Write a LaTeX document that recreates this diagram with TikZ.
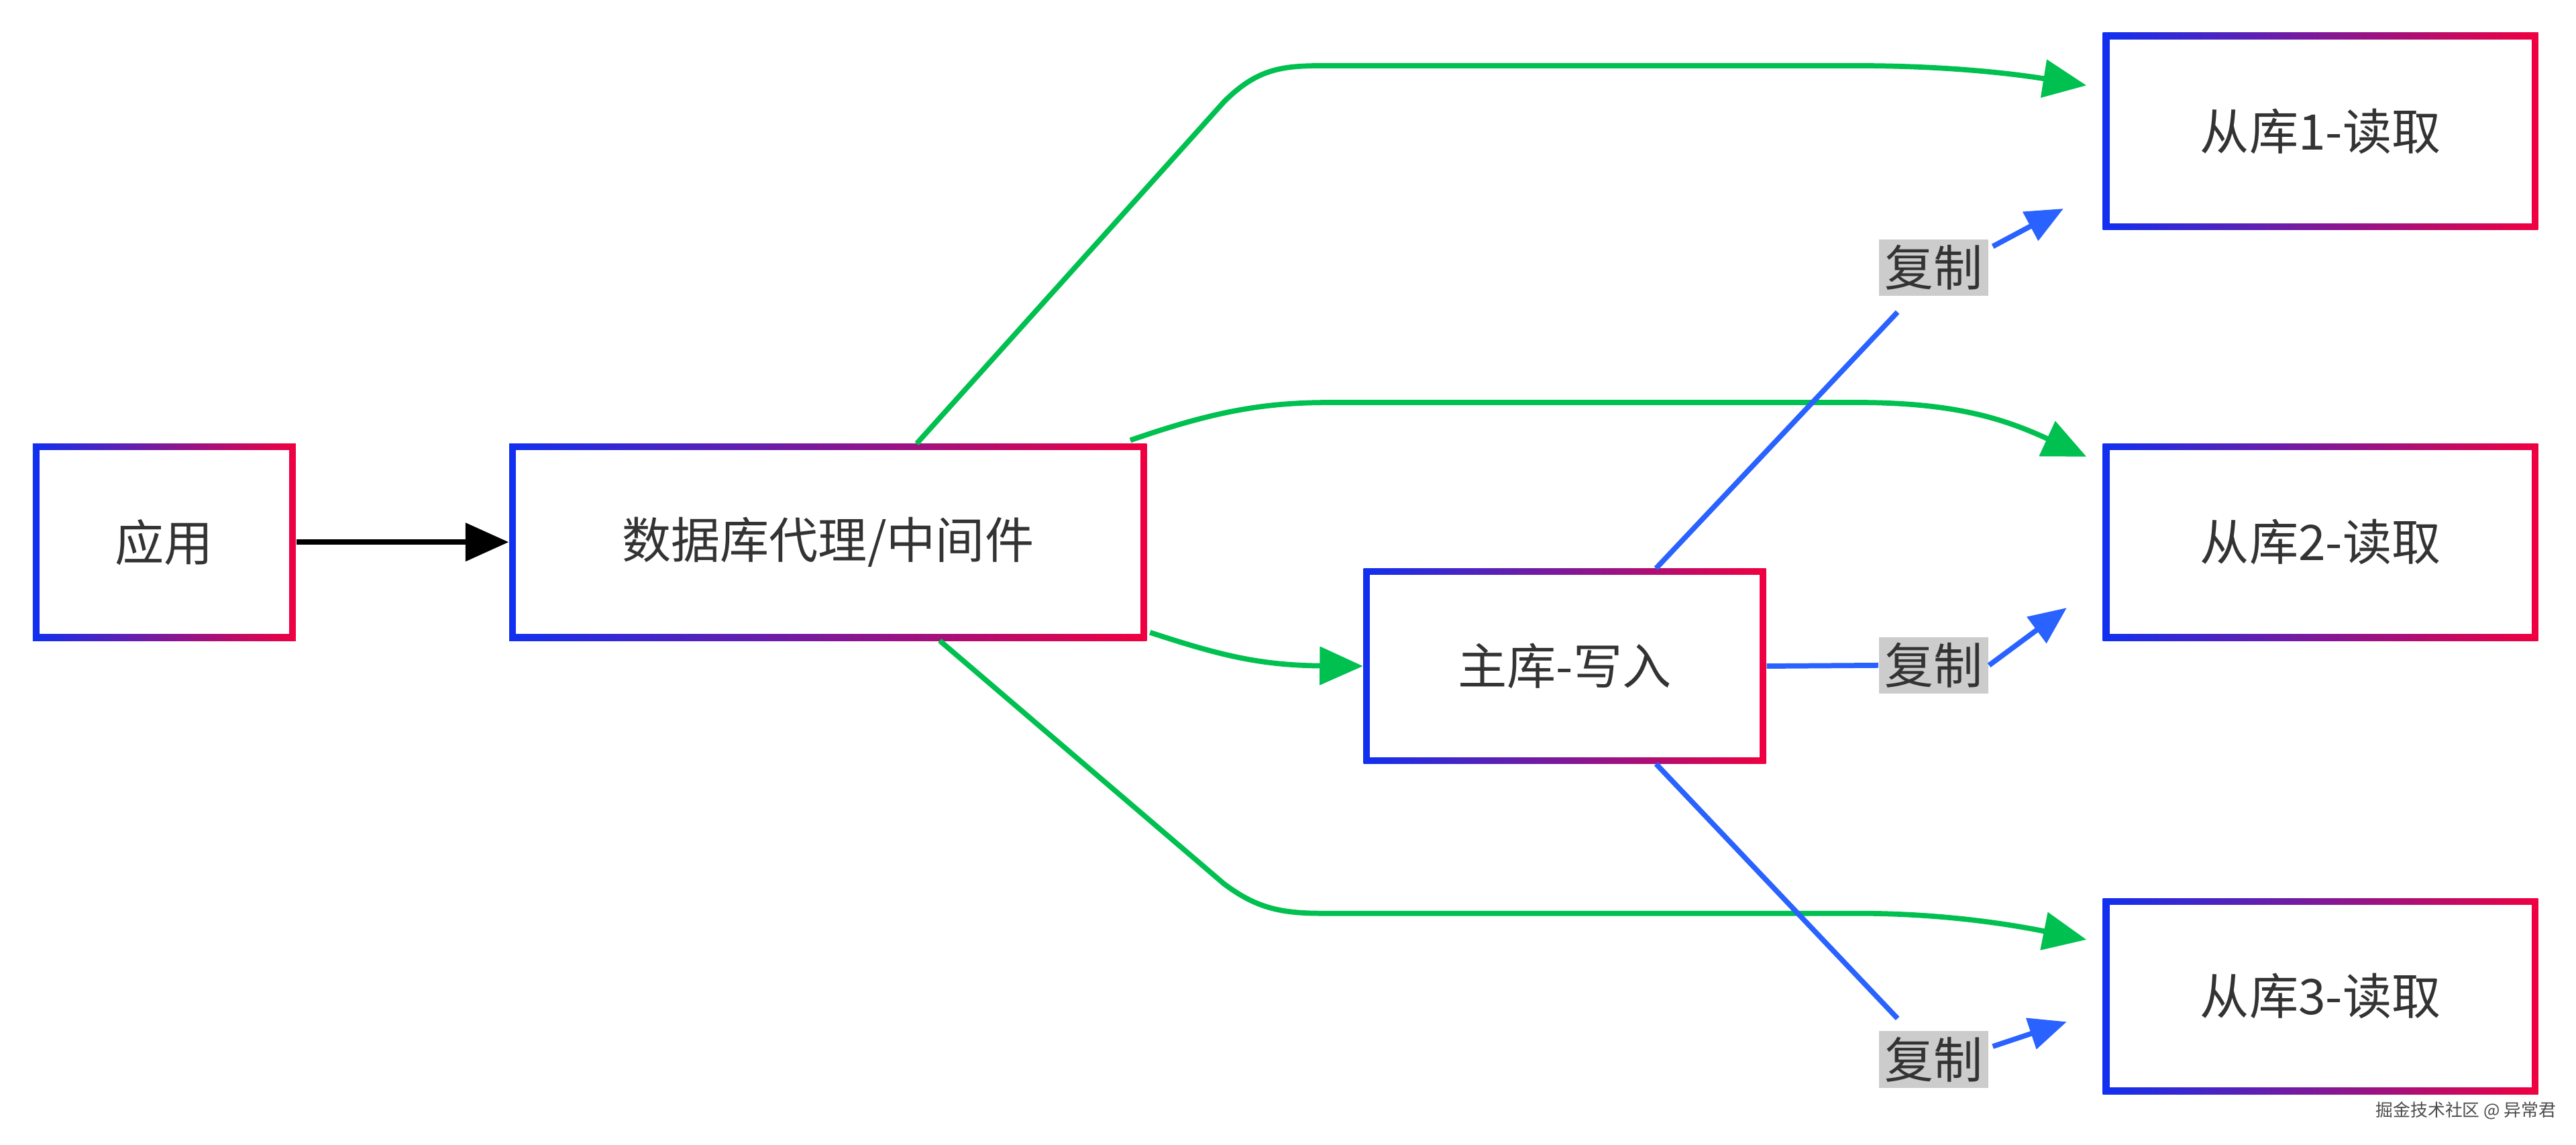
\documentclass[tikz,border=0pt]{standalone}
\usepackage{fontspec}
\setmainfont{Noto Sans CJK SC}
\usetikzlibrary{arrows.meta}
\definecolor{gb}{HTML}{1030F0}
\definecolor{gr}{HTML}{F00040}
\definecolor{gg}{HTML}{00C050}
\definecolor{bl}{HTML}{2962FF}
\definecolor{tx}{HTML}{333333}
\newcommand{\gbox}[6]{%
  \shade[left color=gb,right color=gr] (#2,#3) rectangle (#4,#5);
  \fill[white] ({#2+4},{#3+4}) rectangle ({#4-4},{#5-4});
  \node[inner sep=0pt,minimum width={(#4-#2)*0.02cm},minimum height={(#5-#3)*0.02cm},text=tx,font=\fontsize{17}{20}\selectfont] (#1) at ({(#2+#4)/2},{(#3+#5)/2}) {#6};}
\tikzset{
  gline/.style={gg,line width=1.8pt,-{Triangle[length=15pt,width=13pt]}},
  bline/.style={bl,line width=1.8pt},
  barrow/.style={bl,line width=1.8pt,-{Triangle[length=13pt,width=11pt]}},
  lbl/.style={fill=black!20,text=tx,inner sep=2pt,font=\fontsize{17}{20}\selectfont}
}
\begin{document}
\begin{tikzpicture}[x=0.02cm,y=-0.02cm]
\useasboundingbox (0,0) rectangle (1568,697);
\fill[white] (0,0) rectangle (1568,697);
\gbox{app}{20}{270}{180}{390}{应用}
\gbox{px}{310}{270}{698}{390}{数据库代理/中间件}
\gbox{mst}{830}{346}{1075}{465}{主库-写入}
\gbox{s1}{1280}{20}{1545}{140}{从库1-读取}
\gbox{s2}{1280}{270}{1545}{390}{从库2-读取}
\gbox{s3}{1280}{547}{1545}{666}{从库3-读取}
\coordinate (t1) at (1270,52);
\coordinate (t2) at (1270,278);
\coordinate (t3) at (1270,572);
% black
\draw[black,line width=1.8pt,-{Triangle[length=15pt,width=13pt]}] (app.east) -- (px.west);
% green
\draw[gline] (558,270) -- (745,62) .. controls (765,42) and (780,40) .. (805,40) -- (1130,40) .. controls (1180,40) and (1220,44) .. (t1);
\draw[gline] (688,268) .. controls (740,250) and (770,245) .. (810,245) -- (1130,245) .. controls (1190,245) and (1220,255) .. (t2);
\draw[gline] (700,385) .. controls (740,398) and (765,405) .. (mst.west);
\draw[gline] (572,390) -- (745,538) .. controls (765,553) and (780,556) .. (805,556) -- (1130,556) .. controls (1180,556) and (1220,562) .. (t3);
% blue
\node[lbl] (c1) at (1177,163) {复制};
\node[lbl] (c2) at (1177,405) {复制};
\node[lbl] (c3) at (1177,645) {复制};
\draw[bline] (1008,346) -- (1155,190);
\draw[barrow] (1213,150) -- (1256,127);
\draw[bline] (mst.east) -- (c2.west);
\draw[barrow] (c2.east) -- (1258,370);
\draw[bline] (1008,465) -- (1155,620);
\draw[barrow] (1213,637) -- (1258,622);
\node[lbl] at (c1) {复制};
\node[lbl] at (c3) {复制};
\node[text=black!70,font=\fontsize{6}{7}\selectfont,anchor=east] (wm) at (1562,676) {掘金技术社区 @ 异常君};
\end{tikzpicture}
\end{document}
